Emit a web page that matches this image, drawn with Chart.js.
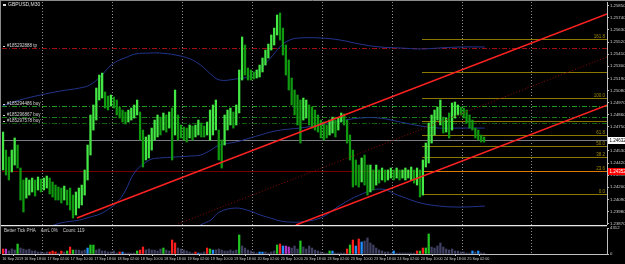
<!DOCTYPE html>
<html lang="en">
<head>
<meta charset="UTF-8">
<title>GBPUSD,M30</title>
<script src="https://cdn.jsdelivr.net/npm/chart.js"></script>
<style>
  html, body { margin: 0; padding: 0; background: #000; }
  body { width: 625px; height: 264px; position: relative; overflow: hidden; }
  #main { position: absolute; left: 0; top: 0; }
  #vol { position: absolute; left: 0; top: 225px; }
</style>
</head>
<body>
<canvas id="main" width="625" height="225"></canvas>
<canvas id="vol" width="625" height="39"></canvas>
<script>
// bar index 0 = 17 Sep 00:00, one bar = 30 min, each entry below covers 2 bars
const firstBar = -27;
const highs = [
  1.24702, 1.24538, 1.24475, 1.24538, 1.24648, 1.24584, 1.24375, 1.24266, 1.24284, 1.24266,
  1.24284, 1.24266, 1.24293, 1.24275, 1.24284, 1.24302, 1.24284, 1.24248, 1.24220, 1.24202,
  1.24193, 1.24211, 1.24175, 1.24193, 1.24129, 1.24157, 1.24193, 1.24220, 1.24357, 1.24584,
  1.24857, 1.24948, 1.25102, 1.25220, 1.25238, 1.25066, 1.25029, 1.25038, 1.25020, 1.24993,
  1.24929, 1.24902, 1.24884, 1.24902, 1.24920, 1.24948, 1.24993, 1.24884, 1.24720, 1.24657,
  1.24675, 1.24738, 1.24811, 1.24857, 1.24838, 1.24875, 1.24857, 1.24884, 1.24920, 1.25084,
  1.24857, 1.24766, 1.24748, 1.24738, 1.24766, 1.24757, 1.24766, 1.24811, 1.24784, 1.24757,
  1.24793, 1.24902, 1.24948, 1.24993, 1.24720, 1.24629, 1.24857, 1.24902, 1.24920, 1.24884,
  1.24948, 1.25266, 1.25566, 1.25493, 1.25284, 1.25266, 1.25248, 1.25266, 1.25311, 1.25375,
  1.25447, 1.25502, 1.25584, 1.25647, 1.25766, 1.25784, 1.25647, 1.25493, 1.25357, 1.25193,
  1.25084, 1.25038, 1.24993, 1.25011, 1.24993, 1.24948, 1.24929, 1.24902, 1.24857, 1.24811,
  1.24793, 1.24766, 1.24811, 1.24838, 1.24811, 1.24829, 1.24875, 1.24866, 1.24811, 1.24675,
  1.24538, 1.24448, 1.24402, 1.24466, 1.24493, 1.24402, 1.24402, 1.24357, 1.24402, 1.24357,
  1.24375, 1.24357, 1.24357, 1.24375, 1.24357, 1.24375, 1.24357, 1.24357, 1.24375, 1.24357,
  1.24384, 1.24357, 1.24375, 1.24357, 1.24448, 1.24602, 1.24784, 1.24857, 1.24902, 1.24929,
  1.24993, 1.24838, 1.24829, 1.24875, 1.24966, 1.24975, 1.24948, 1.24929, 1.24920, 1.24902,
  1.24857, 1.24811, 1.24738, 1.24720, 1.24675, 1.24657
];
const lows = [
  1.24357, 1.24311, 1.24266, 1.24339, 1.24402, 1.24375, 1.24084, 1.23975, 1.24102, 1.24129,
  1.24157, 1.24120, 1.24175, 1.24157, 1.24175, 1.24193, 1.24139, 1.24111, 1.24084, 1.24084,
  1.24057, 1.24084, 1.24039, 1.23993, 1.23920, 1.23948, 1.24011, 1.24039, 1.24129, 1.24266,
  1.24493, 1.24720, 1.24811, 1.24993, 1.25011, 1.24920, 1.24902, 1.24938, 1.24920, 1.24857,
  1.24829, 1.24793, 1.24775, 1.24793, 1.24811, 1.24829, 1.24857, 1.24629, 1.24384, 1.24448,
  1.24466, 1.24538, 1.24629, 1.24657, 1.24675, 1.24720, 1.24702, 1.24738, 1.24448, 1.24675,
  1.24629, 1.24648, 1.24629, 1.24611, 1.24648, 1.24629, 1.24657, 1.24675, 1.24657, 1.24657,
  1.24675, 1.24629, 1.24675, 1.24720, 1.24448, 1.24375, 1.24584, 1.24720, 1.24766, 1.24738,
  1.24766, 1.24875, 1.25175, 1.25220, 1.25175, 1.25175, 1.25184, 1.25193, 1.25202, 1.25248,
  1.25311, 1.25375, 1.25447, 1.25493, 1.25584, 1.25538, 1.25402, 1.25220, 1.25084, 1.24948,
  1.24857, 1.24766, 1.24602, 1.24811, 1.24829, 1.24766, 1.24738, 1.24720, 1.24702, 1.24648,
  1.24629, 1.24648, 1.24675, 1.24693, 1.24657, 1.24720, 1.24793, 1.24766, 1.24602, 1.24448,
  1.24202, 1.24220, 1.24202, 1.24248, 1.24220, 1.24129, 1.24157, 1.24175, 1.24220, 1.24238,
  1.24266, 1.24248, 1.24266, 1.24284, 1.24266, 1.24284, 1.24266, 1.24284, 1.24266, 1.24284,
  1.24266, 1.24238, 1.24220, 1.24111, 1.24129, 1.24384, 1.24420, 1.24602, 1.24675, 1.24811,
  1.24766, 1.24693, 1.24702, 1.24648, 1.24720, 1.24829, 1.24857, 1.24857, 1.24829, 1.24784,
  1.24738, 1.24720, 1.24648, 1.24629, 1.24611, 1.24611
];
const volumes = [
  830, 820, 500, 840, 660, 1650, 990, 820, 670, 810,
  490, 510, 330, 340, 170, 330, 320, 500, 340, 160,
  490, 330, 500, 1160, 660, 670, 650, 500, 660, 990,
  1490, 1480, 660, 830, 500, 490, 330, 340, 500, 170,
  330, 320, 160, 170, 160, 170, 500, 660, 1160, 670,
  830, 660, 650, 500, 830, 990, 660, 500, 2320, 1830,
  990, 830, 660, 500, 330, 170, 330, 160, 170, 330,
  990, 830, 660, 670, 830, 660, 500, 490, 660, 500,
  660, 3150, 1330, 990, 660, 500, 330, 170, 330, 320,
  330, 170, 330, 500, 1490, 1660, 1330, 1320, 1160, 990,
  1330, 830, 2160, 1160, 830, 1330, 990, 660, 500, 330,
  170, 160, 500, 490, 170, 160, 170, 160, 830, 1490,
  2320, 1330, 2490, 1990, 2160, 2660, 1830, 1490, 990, 660,
  500, 330, 340, 170, 500, 160, 170, 160, 170, 160,
  170, 160, 500, 490, 990, 1000, 3320, 1160, 990, 1330,
  1830, 1160, 830, 660, 830, 500, 490, 330, 340, 170,
  160, 500, 330, 490, 170, 160
];
// d = neutral, r = red, g = green, b = blue, m = magenta
const volKinds = (
  'rmdddgdddd' + 'ddddddrrrd' + 'rdgrgddddb' + 'ggdddddddd' + 'rbddddgrrd' +
  'dddddgddrr' + 'ddddddrbdd' + 'rgbddddddd' + 'dgddddddbb' + 'ddddgrbmmd' +
  'ddgddddddd' + 'ddgbddddrg' + 'rbrbdddddd' + 'ddddbddddd' + 'ddrgrggddd' +
  'dddddddddd' + 'dbdbdd').split('');

const bandBars = [-27, -15, -1, 13, 26, 33, 40, 47, 52, 57, 64, 74, 81, 92, 102, 109, 116,
  122, 133, 143, 150, 157, 164, 170, 177, 191, 205, 218, 232, 246, 260, 273, 287, 304];
const bandUpper = [1.24938, 1.24993, 1.25038, 1.25075, 1.25102, 1.25129, 1.25202, 1.25302,
  1.25347, 1.25375, 1.25411, 1.25420, 1.25420, 1.25402, 1.25366, 1.25311, 1.25229, 1.25175,
  1.25184, 1.25211, 1.25284, 1.25375, 1.25484, 1.25538, 1.25557, 1.25557, 1.25538, 1.25502,
  1.25475, 1.25466, 1.25457, 1.25466, 1.25475, 1.25475];
const bandMiddle = [1.23720, 1.23757, 1.23811, 1.23875, 1.23902, 1.23929, 1.23957, 1.24011,
  1.24066, 1.24157, 1.24339, 1.24448, 1.24466, 1.24475, 1.24484, 1.24493, 1.24538, 1.24584,
  1.24611, 1.24648, 1.24675, 1.24702, 1.24720, 1.24729, 1.24738, 1.24766, 1.24802, 1.24829,
  1.24829, 1.24793, 1.24757, 1.24738, 1.24738, 1.24738];
const bandLower = [null, null, null, null, null, null, null, null, null, null, null, null,
  null, null, 1.23793, 1.23857, 1.23902, 1.23975, 1.24011, 1.23984, 1.23948, 1.23920,
  1.23893, 1.23884, 1.23884, 1.23920, 1.24038, 1.24129, 1.24184, 1.24120, 1.24057,
  1.24029, 1.24020, 1.24029];

// trend lines: [bar, price] start and end
const channelTop = [[24.2, 1.23920], [387.8, 1.25775]];
const channelBottom = [[174.4, 1.23857], [387.8, 1.24945]];
const channelMid = [[93.5, 1.23866], [387.8, 1.25384]];

const tpPrice = 1.25468;
const tpLabel = '#185292888 tp';
const buyPrices = [1.24941, 1.24836, 1.24787];
const buyLabels = ['#185294486 buy', '#185296867 buy', '#185297578 buy'];
const bidPrice = 1.24632;
const levelPrice = 1.24352;

const fibLow = 1.24141, fibHigh = 1.25008, fibStartBar = 261;
const fibLevels = [0, 23.6, 38.2, 50, 61.8, 76.4, 100, 127.2, 161.8];
const fibLabels = ['0.0', '23.6', '38.2', '50.0', '61.8', '', '100.0', '', '161.8'];

const priceTicks = [1.25850, 1.25740, 1.25630, 1.25520, 1.25410, 1.25300, 1.25190, 1.25080,
  1.24970, 1.24860, 1.24750, 1.24530, 1.24420, 1.24310, 1.24200, 1.24090, 1.23980, 1.23870];
const dayStartBars = [0, 48, 96, 144, 192, 240, 288, 336];
const dateLabels = ['16 Sep 2019', '16 Sep 18:00', '17 Sep 02:00', '17 Sep 10:00', '17 Sep 18:00',
  '18 Sep 02:00', '18 Sep 10:00', '18 Sep 18:00', '19 Sep 02:00', '19 Sep 10:00', '19 Sep 18:00',
  '20 Sep 02:00', '20 Sep 10:00', '20 Sep 18:00', '23 Sep 02:00', '23 Sep 10:00', '23 Sep 18:00',
  '24 Sep 02:00', '24 Sep 10:00', '24 Sep 18:00', '25 Sep 02:00'];
const dateLabelBars = [-27, -12, 4, 20, 36, 52, 68, 84, 100, 116, 132, 148, 164, 180, 196, 212,
  228, 244, 260, 276, 292];
const volMax = 4312;

const xMin = -27.2, xMax = 387.8;
const FONT = 'Liberation Sans';
Chart.defaults.font.family = FONT;

const barX = i => firstBar + i * 2 + 0.5;
const mids = highs.map((h, i) => (h + lows[i]) / 2);
const volColors = { d: '#3f3f62', r: '#ff1e1e', g: '#22c622', b: '#2090ff', m: '#b436c8' };

function drawDayLines(chart) {
  const { ctx, chartArea: a, scales: { x } } = chart;
  ctx.save();
  ctx.lineWidth = 1;
  ctx.setLineDash([1, 2]);
  ctx.strokeStyle = '#8e8e8e';
  dayStartBars.forEach(d => {
    const px = Math.round(x.getPixelForValue(d)) + 0.5;
    ctx.beginPath(); ctx.moveTo(px, a.top); ctx.lineTo(px, a.bottom); ctx.stroke();
  });
  ctx.restore();
}

const mainOverlay = {
  id: 'mainOverlay',
  beforeDatasetsDraw(chart) {
    const { ctx, chartArea: a, scales: { x, y } } = chart;
    drawDayLines(chart);
    ctx.save();
    ctx.beginPath(); ctx.rect(a.left, a.top, a.right - a.left, a.bottom - a.top); ctx.clip();
    ctx.lineWidth = 1;
    const hline = (price, color, dash, x0) => {
      const py = Math.round(y.getPixelForValue(price)) + 0.5;
      ctx.setLineDash(dash);
      ctx.strokeStyle = color;
      ctx.beginPath(); ctx.moveTo(x0, py); ctx.lineTo(a.right, py); ctx.stroke();
    };
    hline(tpPrice, '#a01010', [5, 2, 1, 2], a.left);
    hline(buyPrices[0], '#1c9c1c', [5, 2, 1, 2], a.left);
    hline(buyPrices[1], '#168016', [5, 2, 1, 2], a.left);
    hline(buyPrices[2], '#0e620e', [5, 2, 1, 2], a.left);
    hline(bidPrice, '#7c7c84', [], a.left);
    hline(levelPrice, '#7a0000', [], a.left);
    const fx = Math.round(x.getPixelForValue(fibStartBar));
    fibLevels.forEach(l => {
      const p = fibLow + (fibHigh - fibLow) * l / 100;
      hline(p, l === 23.6 ? '#e07800' : '#8a7800', [], fx);
    });
    ctx.restore();
  },
  afterDraw(chart) {
    const { ctx, chartArea: a, scales: { y } } = chart;
    ctx.save();
    // frame
    ctx.strokeStyle = '#8a8a8a';
    ctx.lineWidth = 1;
    ctx.beginPath(); ctx.moveTo(0, 0.5); ctx.lineTo(625, 0.5); ctx.stroke();
    ctx.beginPath(); ctx.moveTo(0.5, 0); ctx.lineTo(0.5, 225); ctx.stroke();

    ctx.font = '5px "' + FONT + '"';
    ctx.textBaseline = 'middle';
    ctx.fillStyle = '#e0e0e0';
    ctx.fillRect(3, 4, 3, 2);
    ctx.fillText('GBPUSD,M30', 8, 5);

    ctx.font = '4.5px "' + FONT + '"';
    const labelAt = (price, text) => {
      const py = Math.round(y.getPixelForValue(price));
      ctx.fillStyle = '#d8d8d8';
      ctx.fillRect(3, py - 2, 2, 1);
      ctx.fillText(text, 7, py - 2);
    };
    labelAt(tpPrice, tpLabel);
    buyPrices.forEach((p, i) => labelAt(p, buyLabels[i]));

    ctx.textAlign = 'right';
    ctx.textBaseline = 'bottom';
    ctx.fillStyle = '#a08a00';
    fibLevels.forEach((l, i) => {
      if (!fibLabels[i]) return;
      const py = Math.round(y.getPixelForValue(fibLow + (fibHigh - fibLow) * l / 100));
      ctx.fillText(fibLabels[i], a.right - 2, py);
    });

    // price boxes on the axis
    ctx.textAlign = 'left';
    ctx.textBaseline = 'middle';
    const box = (price, bg, fg) => {
      const py = Math.round(y.getPixelForValue(price));
      ctx.fillStyle = bg;
      ctx.fillRect(a.right + 1, py - 3, 17, 7);
      ctx.fillStyle = fg;
      ctx.fillText(price.toFixed(5), a.right + 2.5, py + 0.5);
    };
    box(bidPrice, '#ffffff', '#000000');
    box(levelPrice, '#ff0000', '#ffffff');
    ctx.restore();
  }
};

const lineSet = (pts, color, width, dash) => ({
  type: 'line',
  data: pts.map(p => ({ x: p[0], y: p[1] })),
  borderColor: color, borderWidth: width, borderDash: dash,
  pointRadius: 0, tension: 0
});
const bandSet = vals => ({
  type: 'line',
  data: bandBars.map((b, i) => ({ x: b, y: vals[i] })),
  borderColor: '#22348c', borderWidth: 1, pointRadius: 0, tension: 0.4, spanGaps: false
});

new Chart(document.getElementById('main'), {
  type: 'bar',
  data: {
    datasets: [
      lineSet(channelTop, '#ff2222', 1.5, []),
      lineSet(channelBottom, '#ff2222', 1.5, []),
      lineSet(channelMid, '#8c0a0a', 1, [1, 2]),
      {
        type: 'bar',
        data: highs.map((h, i) => ({ x: barX(i), y: [lows[i], h] })),
        backgroundColor: c => (c.dataIndex > 0 && mids[c.dataIndex] < mids[c.dataIndex - 1]) ? '#109a10' : '#44e844',
        barThickness: 1.6,
        grouped: false
      },
      bandSet(bandUpper),
      bandSet(bandMiddle),
      bandSet(bandLower)
    ]
  },
  options: {
    responsive: false,
    animation: false,
    events: [],
    layout: { padding: { left: 2, top: 2, right: 0, bottom: 0 } },
    plugins: { legend: { display: false }, tooltip: { enabled: false } },
    scales: {
      x: { type: 'linear', min: xMin, max: xMax, offset: false, display: false },
      y: {
        position: 'right', min: 1.23857, max: 1.25884, beginAtZero: false,
        afterBuildTicks: s => { s.ticks = priceTicks.map(v => ({ value: v })); },
        afterFit: s => { s.width = 18; s.paddingTop = 0; s.paddingBottom = 0; },
        ticks: { callback: v => v.toFixed(5), color: '#d0d0d0', font: { size: 4.3 }, padding: 1 },
        grid: { drawOnChartArea: false, tickLength: 2, color: '#c0c0c0' },
        border: { color: '#c0c0c0' }
      }
    }
  },
  plugins: [mainOverlay]
});

const volOverlay = {
  id: 'volOverlay',
  beforeDatasetsDraw(chart) { drawDayLines(chart); },
  afterDraw(chart) {
    const { ctx, chartArea: a } = chart;
    ctx.save();
    ctx.strokeStyle = '#e8e8e8';
    ctx.lineWidth = 1.2;
    ctx.beginPath(); ctx.moveTo(0, 0.6); ctx.lineTo(a.right, 0.6); ctx.stroke();
    ctx.strokeStyle = '#8a8a8a';
    ctx.lineWidth = 1;
    ctx.beginPath(); ctx.moveTo(0.5, 0); ctx.lineTo(0.5, a.bottom); ctx.stroke();
    ctx.font = '4.5px "' + FONT + '"';
    ctx.fillStyle = '#cfcfcf';
    ctx.textBaseline = 'middle';
    ctx.fillText('Better Tick PHA    AvrL 0%    Count: 119', 4, a.top + 3);
    ctx.restore();
  }
};

new Chart(document.getElementById('vol'), {
  type: 'bar',
  data: {
    datasets: [{
      data: volumes.map((v, i) => ({ x: barX(i), y: v })),
      backgroundColor: c => volColors[volKinds[c.dataIndex]],
      barThickness: 1.6
    }]
  },
  options: {
    responsive: false,
    animation: false,
    events: [],
    layout: { padding: { left: 2, top: 3, right: 0, bottom: 0 } },
    plugins: { legend: { display: false }, tooltip: { enabled: false } },
    scales: {
      x: {
        type: 'linear', min: xMin, max: xMax, offset: false,
        afterBuildTicks: s => { s.ticks = dateLabelBars.map(v => ({ value: v })); },
        afterFit: s => { s.height = 10; s.paddingLeft = 0; s.paddingRight = 0; },
        ticks: {
          callback: (v, i) => dateLabels[i], align: 'start', autoSkip: false,
          maxRotation: 0, minRotation: 0, padding: 1,
          color: '#cfcfcf', font: { size: 3.7 }
        },
        grid: { drawOnChartArea: false, tickLength: 2, color: '#c0c0c0' },
        border: { color: '#c0c0c0' }
      },
      y: {
        position: 'right', min: 0, max: volMax,
        afterBuildTicks: s => { s.ticks = [0, volMax].map(v => ({ value: v })); },
        afterFit: s => { s.width = 18; s.paddingTop = 0; s.paddingBottom = 0; },
        ticks: { callback: v => String(v), color: '#d0d0d0', font: { size: 4.3 }, padding: 1 },
        grid: { drawOnChartArea: false, tickLength: 2, color: '#c0c0c0' },
        border: { color: '#c0c0c0' }
      }
    }
  },
  plugins: [volOverlay]
});
</script>
</body>
</html>
